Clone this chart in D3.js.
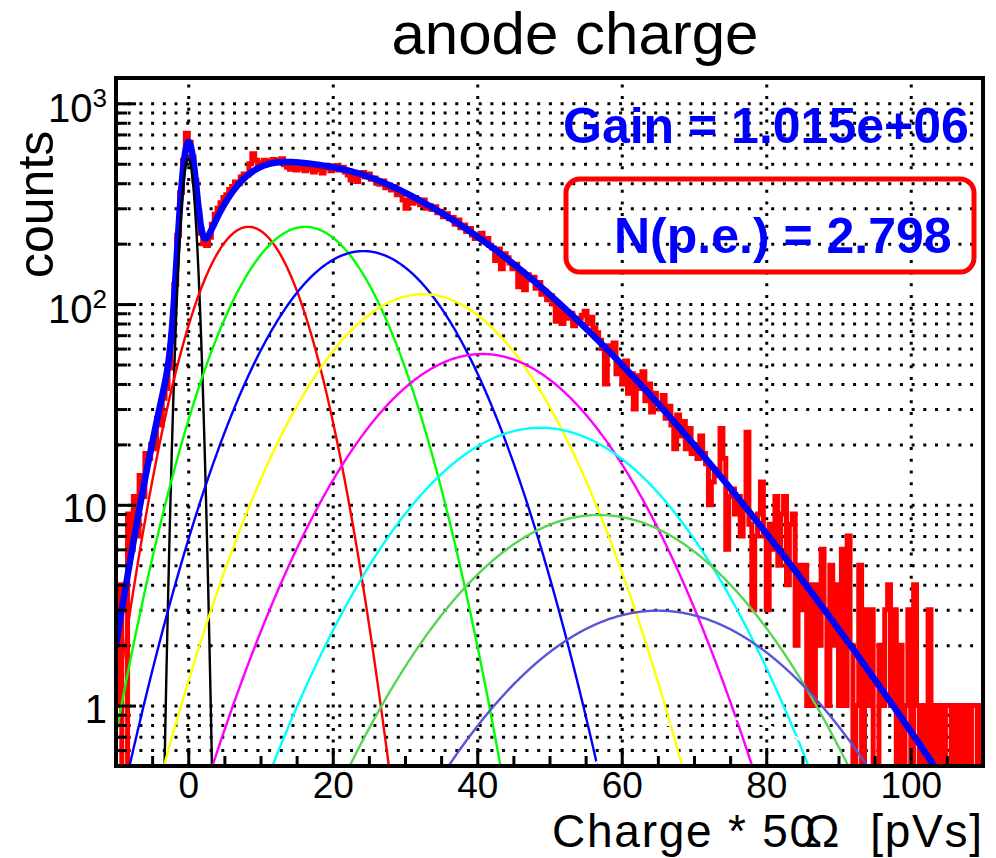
<!DOCTYPE html>
<html>
<head>
<meta charset="utf-8">
<script src="https://cdn.jsdelivr.net/npm/d3@7"></script>
<style>
html, body { margin: 0; padding: 0; background: #fff; }
svg { display: block; }
text { font-family: "Liberation Sans", Arial, Helvetica, sans-serif; }
</style>
</head>
<body>
<svg id="chart" width="996" height="858"></svg>
<script>
// ---- anode charge spectrum: 300 bins of 0.4 pVs from -10 to 110 ----
const binLow = -10;
const binWidth = 0.4;
const counts = [
  1,4,0,0,9,6,11,7,14,11,
  18,17,20,19,27,25,34,38,48,70,
  125,220,360,520,709,640,540,410,290,225,
  200,196,215,250,280,300,320,340,350,372,
  385,405,398,430,445,440,500,560,520,490,
  505,520,498,515,525,510,520,530,495,480,
  470,488,465,475,490,462,478,470,455,482,
  468,450,475,490,462,470,490,465,480,455,
  440,415,430,408,440,452,430,445,418,425,
  400,395,410,380,392,370,385,350,360,330,
  300,330,318,340,322,312,330,300,310,296,
  305,285,290,272,282,266,270,250,262,240,
  248,230,238,221,212,218,225,205,212,196,
  190,165,188,150,178,170,160,150,158,122,
  145,118,140,132,136,120,128,112,116,105,
  110,100,82,96,80,92,85,90,78,84,
  85,88,92,80,86,76,72,66,60,40,
  62,56,64,45,48,40,52,36,45,30,
  44,38,46,33,40,29,36,32,30,35,
  27,31,25,19,28,22,26,19,24,18,
  20,17,22,18,16,10,13,15,14,24,
  17,6,11,12,9,11,7,10,23,8,
  3,7,9,13,7,3,8,6,11,5,
  9,11,4,8,9,2,5,3,5,1,
  4,1,4,2,6,3,1,5,2,4,
  1,6,1,7,2,0,1,5,0,3,
  1,3,0,0,2,1,3,4,1,3,
  0,2,0,1,3,0,4,1,0,1,
  0,3,0,1,0,1,0,1,1,0,
  1,0,1,0,1,0,1,1,0,1
];

// ---- fit model: pedestal (n = 0) and n photo-electron gaussians ----
const peMean  = [0, 8.35, 16.2, 24.25, 32.5, 40.7, 48.75, 56.85, 65.0, 73.1, 81.2, 89.3, 97.4];
const pePeak  = [530, 242.5, 242.5, 183.6, 112, 56.4, 24.2, 8.9, 2.97, 0.871, 0.231, 0.056, 0.0125];
const peSigma = [0.879, 5.52, 7.68, 9.42, 10.9, 12.15, 13.32, 14.38, 15.35, 16.3, 17.2, 18.05, 18.85];
// colours of the components that are drawn individually (ROOT colour indices 1..10)
const peColor = ["#000000", "#ff0000", "#00ff00", "#0000ff", "#ffff00",
                 "#ff00ff", "#00ffff", "#59d454", "#5954d8", "#ffffff"];

// ---- axes ----
const xMajor = [0, 20, 40, 60, 80, 100];
const xMinor = [-5, 5, 10, 15, 25, 30, 35, 45, 50, 55, 65, 70, 75, 85, 90, 95, 105];
const yMajor = [1, 10, 100, 1000];
const yMinor = [0.6, 0.7, 0.8, 0.9, 2, 3, 4, 5, 6, 7, 8, 9,
                20, 30, 40, 50, 60, 70, 80, 90, 200, 300, 400, 500, 600, 700, 800, 900];
const yLabels = [
  { v: 1, base: "1", sup: "" },
  { v: 10, base: "10", sup: "" },
  { v: 100, base: "10", sup: "2" },
  { v: 1000, base: "10", sup: "3" }
];

const titleText = "anode charge";
const xTitle = "Charge * 50\u03A9  [pVs]";
const yTitle = "counts";
const gainText = "Gain = 1.015e+06";
const npeText = "N(p.e.) = 2.798";

// ---- layout ----
const frame = { left: 116, top: 78, right: 983, bottom: 766 };
const fw = frame.right - frame.left;
const fh = frame.bottom - frame.top;

const x = d3.scaleLinear().domain([-10, 110]).range([frame.left, frame.right]);
const y = d3.scaleLog().domain([0.5, 1337]).range([frame.bottom, frame.top]);

const svg = d3.select("#chart");
svg.append("rect").attr("width", 996).attr("height", 858).attr("fill", "#fff");

svg.append("defs").append("clipPath").attr("id", "frameClip")
  .append("rect").attr("x", frame.left).attr("y", frame.top).attr("width", fw).attr("height", fh);

// ---- dotted grid ----
const gridStyle = sel => sel.selectAll("line")
  .attr("stroke", "#000").attr("stroke-width", 3).attr("stroke-dasharray", "3,8.7");

svg.append("g")
  .attr("transform", `translate(${frame.left},0)`)
  .call(d3.axisLeft(y).tickValues(yMajor.concat(yMinor)).tickSize(-fw).tickFormat(""))
  .call(g => g.select(".domain").remove())
  .call(gridStyle);

svg.append("g")
  .attr("transform", `translate(0,${frame.bottom})`)
  .call(d3.axisBottom(x).tickValues(xMajor).tickSize(-fh).tickFormat(""))
  .call(g => g.select(".domain").remove())
  .call(gridStyle);

const plot = svg.append("g").attr("clip-path", "url(#frameClip)");

// ---- histogram (step outline, empty bins drop to the bottom) ----
const yBin = c => c > 0 ? y(c) : frame.bottom + 20;
const histPts = counts.map((c, i) => [binLow + i * binWidth, c]);
histPts.push([binLow + counts.length * binWidth, counts[counts.length - 1]]);
plot.append("path")
  .datum(histPts)
  .attr("fill", "none")
  .attr("stroke", "#ff0000")
  .attr("stroke-width", 5)
  .attr("stroke-linejoin", "miter")
  .attr("d", d3.line().x(d => x(d[0])).y(d => yBin(d[1])).curve(d3.curveStepAfter));

// ---- fit curves ----
const gauss = (n, t) => pePeak[n] * Math.exp(-((t - peMean[n]) ** 2) / (2 * peSigma[n] ** 2));
const xs = d3.range(-10, 110.0001, 0.1);
const fitLine = d3.line().x(d => x(d[0])).y(d => y(Math.max(d[1], 0.05)));

// total of all components
const totalPts = xs.map(t => [t, d3.sum(peMean, (m, n) => gauss(n, t))]);
plot.append("path")
  .datum(totalPts)
  .attr("fill", "none")
  .attr("stroke", "#0000ff")
  .attr("stroke-width", 6.5)
  .attr("stroke-linejoin", "round")
  .attr("d", fitLine);

// individual components
peColor.forEach((col, n) => {
  plot.append("path")
    .datum(xs.map(t => [t, gauss(n, t)]))
    .attr("fill", "none")
    .attr("stroke", col)
    .attr("stroke-width", 2.4)
    .attr("d", fitLine);
});

// ---- ticks (inside the frame) ----
const tickStyle = sel => sel.selectAll("line").attr("stroke", "#000").attr("stroke-width", 3);

svg.append("g")
  .attr("transform", `translate(${frame.left},0)`)
  .call(d3.axisLeft(y).tickValues(yMajor).tickSizeInner(-20).tickSizeOuter(0).tickFormat(""))
  .call(g => g.select(".domain").remove())
  .call(tickStyle);
svg.append("g")
  .attr("transform", `translate(${frame.left},0)`)
  .call(d3.axisLeft(y).tickValues(yMinor).tickSizeInner(-11).tickSizeOuter(0).tickFormat(""))
  .call(g => g.select(".domain").remove())
  .call(tickStyle);

const xAxisMajor = svg.append("g")
  .attr("transform", `translate(0,${frame.bottom})`)
  .call(d3.axisBottom(x).tickValues(xMajor).tickSizeInner(-18).tickSizeOuter(0)
        .tickPadding(6).tickFormat(d3.format("d")))
  .call(g => g.select(".domain").remove())
  .call(tickStyle);
xAxisMajor.attr("font-size", null).attr("font-family", null);
xAxisMajor.selectAll("text")
  .attr("fill", "#000")
  .style("font-size", "37px")
  .style("font-family", "'Liberation Sans', Arial, Helvetica, sans-serif");

svg.append("g")
  .attr("transform", `translate(0,${frame.bottom})`)
  .call(d3.axisBottom(x).tickValues(xMinor).tickSizeInner(-10).tickSizeOuter(0).tickFormat(""))
  .call(g => g.select(".domain").remove())
  .call(tickStyle);

// y tick labels with powers of ten
yLabels.forEach(l => {
  const t = svg.append("text")
    .attr("x", 107)
    .attr("y", y(l.v) + (l.sup ? 19 : 17))
    .attr("text-anchor", "end")
    .attr("font-size", 40)
    .attr("fill", "#000")
    .text(l.base);
  if (l.sup) {
    t.append("tspan").attr("dy", -15).attr("font-size", 26).text(l.sup);
  }
});

// ---- frame ----
svg.append("rect")
  .attr("x", frame.left).attr("y", frame.top)
  .attr("width", fw).attr("height", fh)
  .attr("fill", "none").attr("stroke", "#000").attr("stroke-width", 4);

// ---- titles ----
svg.append("text")
  .attr("x", 575).attr("y", 54)
  .attr("text-anchor", "middle")
  .attr("font-size", 60)
  .attr("fill", "#000")
  .text(titleText);

// the omega is pulled back onto the preceding zero
svg.append("text")
  .attr("x", 552).attr("y", 847)
  .attr("font-size", 46)
  .attr("fill", "#000")
  .attr("dx", "0 0 0 0 0 0 0 0 0 0 0 -12")
  .attr("textLength", 430)
  .attr("lengthAdjust", "spacing")
  .style("white-space", "pre")
  .text(xTitle);

svg.append("text")
  .attr("transform", "translate(53,278) rotate(-90)")
  .attr("text-anchor", "start")
  .attr("font-size", 50)
  .attr("fill", "#000")
  .text(yTitle);

// ---- fit result labels ----
svg.append("text")
  .attr("x", 563).attr("y", 143)
  .attr("font-size", 50)
  .attr("font-weight", "bold")
  .attr("fill", "#0000ff")
  .text(gainText);

svg.append("rect")
  .attr("x", 566).attr("y", 179)
  .attr("width", 408).attr("height", 93)
  .attr("rx", 14).attr("ry", 14)
  .attr("fill", "none")
  .attr("stroke", "#ff0000")
  .attr("stroke-width", 5);

svg.append("text")
  .attr("x", 614).attr("y", 253)
  .attr("font-size", 50)
  .attr("font-weight", "bold")
  .attr("fill", "#0000ff")
  .text(npeText);
</script>
</body>
</html>
